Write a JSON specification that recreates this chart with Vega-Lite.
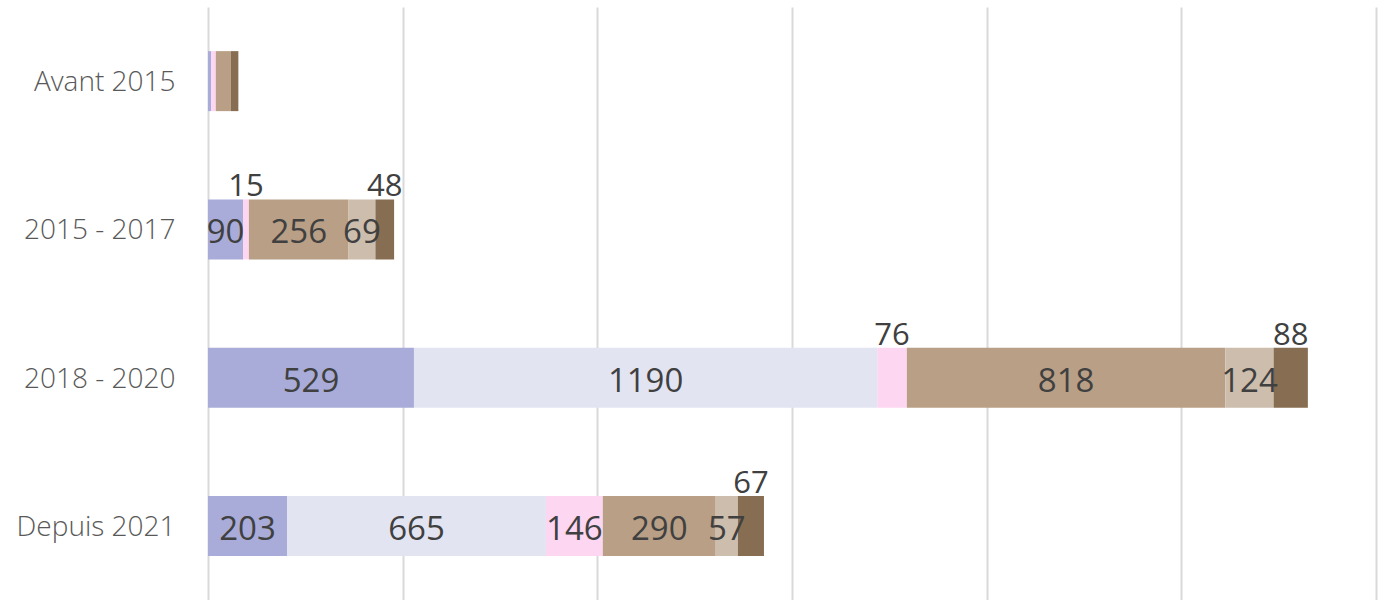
{
  "$schema": "https://vega.github.io/schema/vega-lite/v6.json",
  "width": 1168,
  "height": 593,
  "autosize": {"type": "none"},
  "padding": {"left": 208, "top": 7, "right": 8, "bottom": 0},
  "background": "white",
  "config": {"view": {"stroke": null}, "font": "Open Sans"},
  "data": {
    "values": [
      {"cat": "Avant 2015", "serie": "S1", "k": 1, "value": 8},
      {"cat": "Avant 2015", "serie": "S2", "k": 2, "value": 0},
      {"cat": "Avant 2015", "serie": "S3", "k": 3, "value": 12},
      {"cat": "Avant 2015", "serie": "S4", "k": 4, "value": 39},
      {"cat": "Avant 2015", "serie": "S5", "k": 5, "value": 0},
      {"cat": "Avant 2015", "serie": "S6", "k": 6, "value": 19},
      {"cat": "2015 - 2017", "serie": "S1", "k": 1, "value": 90},
      {"cat": "2015 - 2017", "serie": "S2", "k": 2, "value": 0},
      {"cat": "2015 - 2017", "serie": "S3", "k": 3, "value": 15},
      {"cat": "2015 - 2017", "serie": "S4", "k": 4, "value": 256},
      {"cat": "2015 - 2017", "serie": "S5", "k": 5, "value": 69},
      {"cat": "2015 - 2017", "serie": "S6", "k": 6, "value": 48},
      {"cat": "2018 - 2020", "serie": "S1", "k": 1, "value": 529},
      {"cat": "2018 - 2020", "serie": "S2", "k": 2, "value": 1190},
      {"cat": "2018 - 2020", "serie": "S3", "k": 3, "value": 76},
      {"cat": "2018 - 2020", "serie": "S4", "k": 4, "value": 818},
      {"cat": "2018 - 2020", "serie": "S5", "k": 5, "value": 124},
      {"cat": "2018 - 2020", "serie": "S6", "k": 6, "value": 88},
      {"cat": "Depuis 2021", "serie": "S1", "k": 1, "value": 203},
      {"cat": "Depuis 2021", "serie": "S2", "k": 2, "value": 665},
      {"cat": "Depuis 2021", "serie": "S3", "k": 3, "value": 146},
      {"cat": "Depuis 2021", "serie": "S4", "k": 4, "value": 290},
      {"cat": "Depuis 2021", "serie": "S5", "k": 5, "value": 57},
      {"cat": "Depuis 2021", "serie": "S6", "k": 6, "value": 67}
    ]
  },
  "transform": [
    {"stack": "value", "groupby": ["cat"], "sort": [{"field": "k", "order": "ascending"}], "as": ["x0", "x1"]},
    {"calculate": "(datum.x0 + datum.x1) / 2", "as": "mid"}
  ],
  "encoding": {
    "y": {
      "field": "cat",
      "type": "nominal",
      "sort": ["Avant 2015", "2015 - 2017", "2018 - 2020", "Depuis 2021"],
      "scale": {"paddingInner": 0, "paddingOuter": 0},
      "axis": {
        "title": null,
        "domain": false,
        "ticks": false,
        "labelPadding": 33,
        "labelFontSize": 28,
        "labelColor": "#595959",
        "labelFontWeight": 300,
        "labelFont": "Open Sans",
        "labelOffset": 2
      }
    }
  },
  "layer": [
    {
      "mark": {"type": "bar", "size": 60},
      "encoding": {
        "x": {
          "field": "x0",
          "type": "quantitative",
          "scale": {"domain": [0, 3000], "nice": false},
          "axis": {
            "title": null,
            "labels": false,
            "ticks": false,
            "domain": false,
            "grid": true,
            "gridColor": "#d9d9d9",
            "gridWidth": 2,
            "values": [0, 500, 1000, 1500, 2000, 2500, 3000]
          }
        },
        "x2": {"field": "x1"},
        "color": {
          "field": "serie",
          "type": "nominal",
          "scale": {
            "domain": ["S1", "S2", "S3", "S4", "S5", "S6"],
            "range": ["#a9acd9", "#e3e4f2", "#fdd6f1", "#b89f86", "#cdbdad", "#876e52"]
          },
          "legend": null
        }
      }
    },
    {
      "transform": [
        {"filter": "datum.cat != 'Avant 2015' && datum.value > 0 && !((datum.serie == 'S3' || datum.serie == 'S6') && datum.value < 100)"}
      ],
      "mark": {"type": "text", "fontSize": 33, "color": "#404040", "baseline": "alphabetic", "dy": 14, "align": "center"},
      "encoding": {
        "x": {"field": "mid", "type": "quantitative"},
        "text": {"field": "value", "type": "quantitative"}
      }
    },
    {
      "transform": [
        {"filter": "datum.cat != 'Avant 2015' && datum.value > 0 && ((datum.serie == 'S3' || datum.serie == 'S6') && datum.value < 100)"}
      ],
      "mark": {"type": "text", "fontSize": 31, "color": "#404040", "baseline": "alphabetic", "dy": -33, "align": "center"},
      "encoding": {
        "x": {"field": "mid", "type": "quantitative"},
        "text": {"field": "value", "type": "quantitative"}
      }
    }
  ]
}
